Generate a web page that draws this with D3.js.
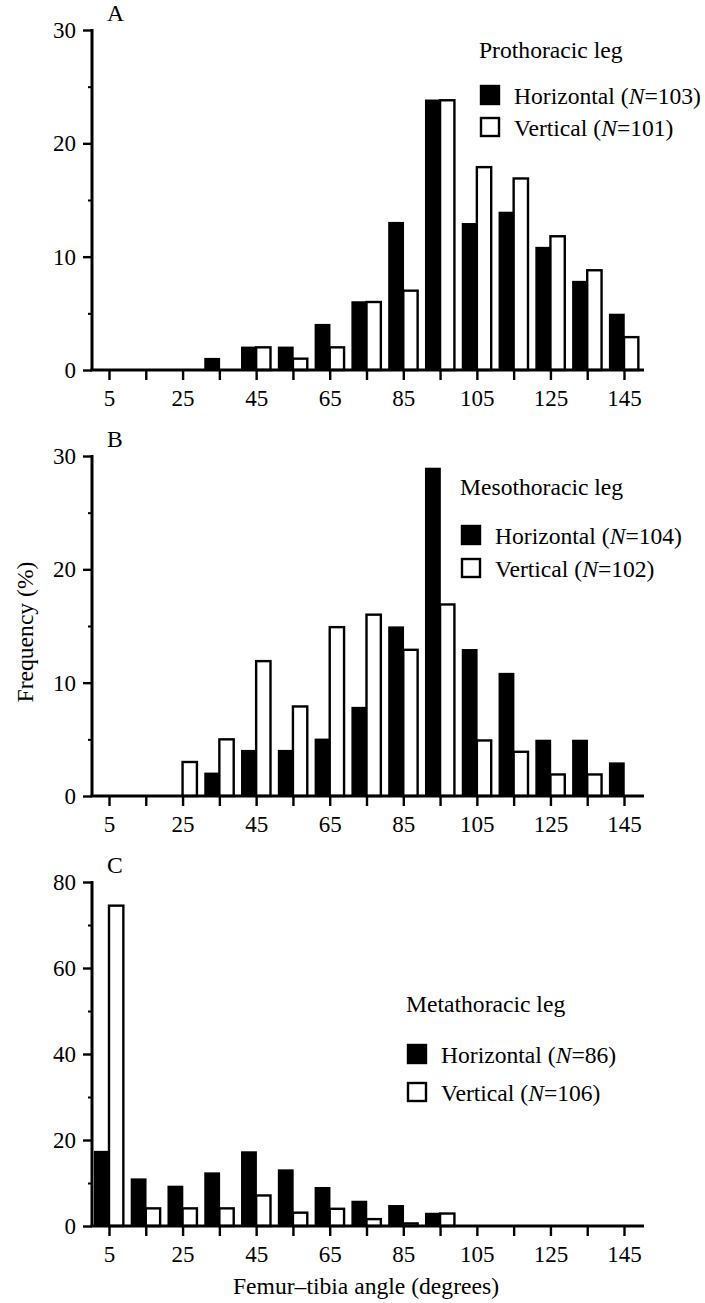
<!DOCTYPE html>
<html>
<head>
<meta charset="utf-8">
<script src="https://cdn.jsdelivr.net/npm/d3@7"></script>
<style>
  body { margin: 0; background: #fff; }
  svg text { font-family: "Liberation Serif", "Times New Roman", serif; fill: #000; }
</style>
</head>
<body>
<svg id="chart" width="705" height="1303"></svg>
<script>
// bin centres (degrees)
const angles = [5, 15, 25, 35, 45, 55, 65, 75, 85, 95, 105, 115, 125, 135, 145]
const labelAngles = [5, 25, 45, 65, 85, 105, 125, 145]

// A – prothoracic leg
const proHorizontal = [0, 0, 0, 1, 2, 2, 4, 6, 13, 23.8, 12.9, 13.9, 10.8, 7.8, 4.9]
const proVertical   = [0, 0, 0, 0, 2, 1, 2, 6, 7, 23.8, 17.9, 16.9, 11.8, 8.8, 2.9]
// B – mesothoracic leg
const mesoHorizontal = [0, 0, 0, 2, 4, 4, 5, 7.8, 14.9, 28.9, 12.9, 10.8, 4.9, 4.9, 2.9]
const mesoVertical   = [0, 0, 3, 5, 11.9, 7.9, 14.9, 16, 12.9, 16.9, 4.9, 3.9, 1.9, 1.9, 0]
// C – metathoracic leg
const metaHorizontal = [17.3, 10.9, 9.2, 12.3, 17.2, 13, 8.9, 5.7, 4.7, 2.9, 0, 0, 0, 0, 0]
const metaVertical   = [74.5, 4.1, 4.1, 4.1, 7.1, 3.1, 4, 1.6, 0.6, 2.9, 0, 0, 0, 0, 0]

const panelLetters = ['A', 'B', 'C']
const panelTitles = ['Prothoracic leg', 'Mesothoracic leg', 'Metathoracic leg']
const horizontalN = [103, 104, 86]
const verticalN = [101, 102, 106]
const yMax = [30, 30, 80]
const yMajor = [[0, 10, 20, 30], [0, 10, 20, 30], [0, 20, 40, 60, 80]]
const yMinor = [[5, 15, 25], [5, 15, 25], [10, 30, 50, 70]]

const svg = d3.select('#chart')

// plot frames and legend anchors (title x, title baseline, first entry baseline, entry step)
const panels = [
    {top: 30, bottom: 370, legend: [479, 58, 104, 32], h: proHorizontal, v: proVertical},
    {top: 456, bottom: 796, legend: [460, 495, 544, 33], h: mesoHorizontal, v: mesoVertical},
    {top: 882, bottom: 1226, legend: [406, 1012, 1063, 38], h: metaHorizontal, v: metaVertical}
]

const fontTick = 23
const fontText = 23.6
const axisLeft = 92
const axisRight = 644
const x = d3.scaleLinear().domain([5, 145]).range([109, 624])
const barW = (x(15) - x(5)) * 0.39

panels.forEach((p, i) => {
    const g = svg.append('g')
    const y = d3.scaleLinear().domain([0, yMax[i]]).range([p.bottom, p.top])

    // bars: black (horizontal) left of the tick, white (vertical) right of it
    g.append('g').selectAll('rect')
    .data(angles.map((a, k) => ({a, v: p.h[k]})).filter(d => d.v > 0))
    .enter().append('rect')
    .attr('x', d => x(d.a) - barW)
    .attr('y', d => y(d.v))
    .attr('width', barW)
    .attr('height', d => y(0) - y(d.v))
    .attr('fill', '#000')
    .attr('stroke', '#000')
    .attr('stroke-width', 1.5)

    g.append('g').selectAll('rect')
    .data(angles.map((a, k) => ({a, v: p.v[k]})).filter(d => d.v > 0))
    .enter().append('rect')
    .attr('x', d => x(d.a))
    .attr('y', d => y(d.v))
    .attr('width', barW)
    .attr('height', d => y(0) - y(d.v))
    .attr('fill', '#fff')
    .attr('stroke', '#000')
    .attr('stroke-width', 2.4)

    // x axis
    const xAxis = g.append('g')
    .attr('transform', `translate(0,${p.bottom})`)
    .call(d3.axisBottom(x).tickValues(angles).tickSize(10).tickPadding(10)
        .tickFormat(d => labelAngles.includes(d) ? d : ''))
    xAxis.select('.domain').remove()
    xAxis.selectAll('line').attr('stroke-width', 2.4)
    xAxis.selectAll('text').attr('font-size', fontTick).attr('font-family', null)

    // y axis, major + minor ticks
    const yAxis = g.append('g')
    .attr('transform', `translate(${axisLeft},0)`)
    .call(d3.axisLeft(y).tickValues(yMajor[i]).tickSize(9).tickPadding(7))
    yAxis.select('.domain').remove()
    yAxis.selectAll('line').attr('stroke-width', 2.4)
    yAxis.selectAll('text').attr('font-size', fontTick).attr('font-family', null)

    const yMinorAxis = g.append('g')
    .attr('transform', `translate(${axisLeft},0)`)
    .call(d3.axisLeft(y).tickValues(yMinor[i]).tickSize(4).tickFormat(''))
    yMinorAxis.select('.domain').remove()
    yMinorAxis.selectAll('line').attr('stroke-width', 2)

    // axis lines
    g.append('line')
    .attr('x1', axisLeft - 1.5).attr('x2', axisRight)
    .attr('y1', p.bottom).attr('y2', p.bottom)
    .attr('stroke', '#000').attr('stroke-width', 3)
    g.append('line')
    .attr('x1', axisLeft).attr('x2', axisLeft)
    .attr('y1', p.bottom).attr('y2', p.top - 1)
    .attr('stroke', '#000').attr('stroke-width', 3)

    // panel letter
    g.append('text')
    .attr('x', 107).attr('y', p.top - 9.5)
    .attr('font-size', fontText)
    .text(panelLetters[i])

    // legend
    const [lx, titleY, entryY, step] = p.legend
    g.append('text')
    .attr('x', lx).attr('y', titleY)
    .attr('font-size', fontText)
    .text(panelTitles[i])

    const entries = [
        {fill: '#000', label: 'Horizontal', n: horizontalN[i]},
        {fill: '#fff', label: 'Vertical', n: verticalN[i]}
    ]
    entries.forEach((e, k) => {
        const by = entryY + k * step
        g.append('rect')
        .attr('x', lx + 2).attr('y', by - 18)
        .attr('width', 18).attr('height', 18)
        .attr('fill', e.fill)
        .attr('stroke', '#000').attr('stroke-width', 2.4)
        const t = g.append('text')
        .attr('x', lx + 35).attr('y', by)
        .attr('font-size', fontText)
        t.append('tspan').text(e.label + ' (')
        t.append('tspan').attr('font-style', 'italic').text('N')
        t.append('tspan').text('=' + e.n + ')')
    })
})

// shared axis titles
svg.append('text')
.attr('transform', 'translate(33,632) rotate(-90)')
.attr('text-anchor', 'middle')
.attr('font-size', fontText)
.text('Frequency (%)')

svg.append('text')
.attr('x', 366).attr('y', 1294)
.attr('text-anchor', 'middle')
.attr('font-size', fontText)
.text('Femur–tibia angle (degrees)')
</script>
</body>
</html>
